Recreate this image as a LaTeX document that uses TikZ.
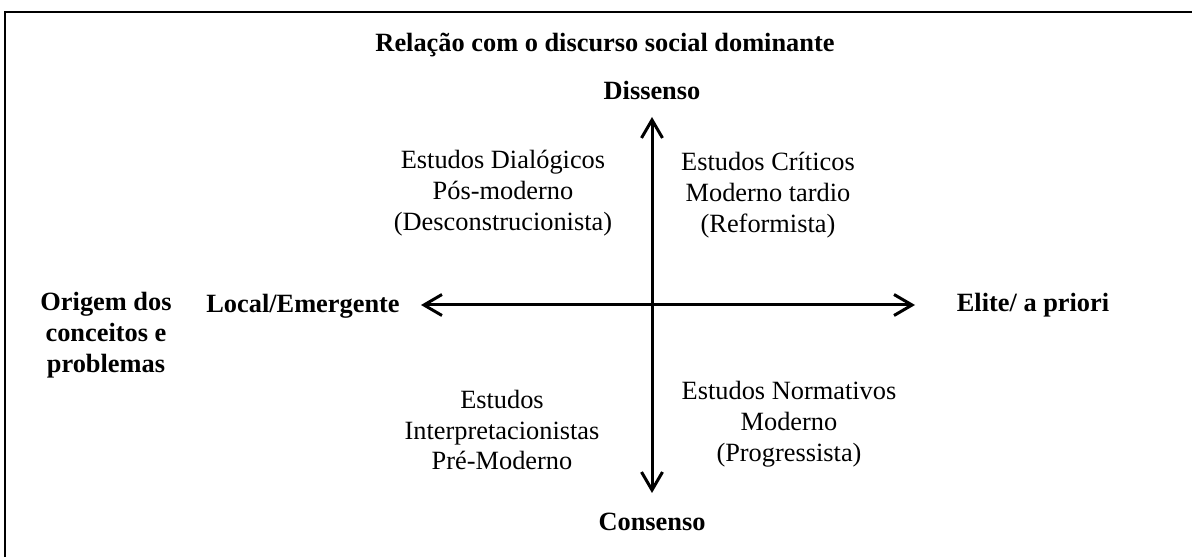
\documentclass[tikz,border=0pt]{standalone}
\usepackage{fontspec}
\setmainfont{Liberation Serif}
\usetikzlibrary{arrows.meta,positioning,calc}
\tikzset{quadpanel/.style={
  font=\fontsize{15}{17.6}\selectfont,
  frame/.style={line width=0.04cm, black},
  axis/.style={{Straight Barb[length=0.36cm, width=0.42cm]}-{Straight Barb[length=0.36cm, width=0.42cm]}, line width=0.06cm},
  pole/.style={font=\fontsize{15}{17.6}\selectfont\bfseries, inner sep=0pt},
  quad/.style={align=center, inner sep=0pt},
}}

\begin{document}
\begin{tikzpicture}[quadpanel]
\useasboundingbox (0,0) rectangle (23.84,11.14);

% ---- open frame (cut at right and bottom) ----
\draw[frame] (0.1,0) -- (0.1,10.9) -- (23.84,10.9);

% ---- headings ----
\node[pole] (title) at (12.10,10.24) {Relação com o discurso social dominante};
\node[pole, align=center] (origem) at (2.12,4.44) {Origem dos\\conceitos e\\problemas};

% ---- poles of the two axes ----
\node[pole] (dissenso) at (13.04,9.34) {Dissenso};
\node[pole] (consenso) at (13.04,0.70) {Consenso};
\node[pole] (local) at (6.06,5.02) {Local/Emergente};
\node[pole] (elite) at (20.66,5.04) {Elite/ a priori};

% ---- axis ends ----
\coordinate (vtop) at (13.04,8.80);
\coordinate (vbot) at (13.04,1.28);
\coordinate (hleft) at (8.42,5.04);
\coordinate (hright) at (18.30,5.04);

\draw[axis] (vbot) -- (vtop);
\draw[axis] (hleft) -- (hright);

% ---- quadrants ----
\node[quad] (dialog) at (10.06,7.28) {Estudos Dialógicos\\Pós-moderno\\(Desconstrucionista)};
\node[quad] (critic) at (15.36,7.24) {Estudos Críticos\\Moderno tardio\\(Reformista)};
\node[quad] (interp) at (10.04,2.54) {Estudos\\Interpretacionistas\\Pré-Moderno};
\node[quad] (norma)  at (15.78,2.66) {Estudos Normativos\\Moderno\\(Progressista)};

\end{tikzpicture}
\end{document}
